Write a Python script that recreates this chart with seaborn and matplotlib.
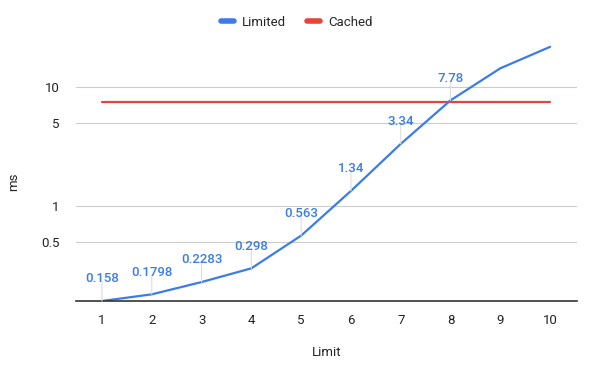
import numpy as np
import pandas as pd
import matplotlib
matplotlib.use("Agg")
import matplotlib.pyplot as plt
from matplotlib.lines import Line2D
import seaborn as sns

limits = [1, 2, 3, 4, 5, 6, 7, 8, 9, 10]
limited = [0.158, 0.1798, 0.2283, 0.298, 0.563, 1.34, 3.34, 7.78, 14.5, 22.0]
cached = [7.5, 7.5, 7.5, 7.5, 7.5, 7.5, 7.5, 7.5, 7.5, 7.5]
label_count = 8  # only the first eight points carry value labels
yticks = [0.5, 1, 5, 10]
ytick_labels = ["0.5", "1", "5", "10"]

blue = "#3a7ce8"
red = "#e94335"

df = pd.DataFrame({"Limit": limits * 2,
                   "ms": limited + cached,
                   "series": ["Limited"] * len(limits) + ["Cached"] * len(limits)})

sns.set_style("white")
plt.rcParams["font.family"] = ["Roboto", "DejaVu Sans"]

fig = plt.figure(figsize=(5.93, 3.66), dpi=100)
ax = fig.add_axes([76 / 593, 1 - 301 / 366, (577 - 76) / 593, (301 - 30) / 366])

sns.lineplot(data=df, x="Limit", y="ms", hue="series",
             palette={"Limited": blue, "Cached": red},
             hue_order=["Cached", "Limited"], linewidth=1.6, ax=ax, legend=False)

ax.set_yscale("log")
ax.set_ylim(0.158, 30.5)
ax.set_xlim(0.478, 10.54)
ax.set_yticks(yticks)
ax.set_yticklabels(ytick_labels)
ax.yaxis.set_minor_locator(matplotlib.ticker.NullLocator())
ax.set_xticks(limits)
ax.tick_params(axis="both", length=0, labelsize=9.5, colors="#222222", pad=9)
ax.tick_params(axis="y", pad=12)
ax.grid(axis="y", color="#cccccc", linewidth=0.8)
for s in ["top", "right", "left"]:
    ax.spines[s].set_visible(False)
ax.spines["bottom"].set_color("#333333")
ax.spines["bottom"].set_linewidth(1.2)

ax.set_xlabel("Limit", fontsize=9.5, color="#222222", labelpad=14)
ax.set_ylabel("ms", fontsize=9.5, color="#222222")
ax.yaxis.set_label_coords((20 - 76) / 501, 0.44)

for x, y in zip(limits[:label_count], limited[:label_count]):
    ax.annotate("", xy=(x, y), xytext=(0, 14), textcoords="offset points",
                arrowprops=dict(arrowstyle="-", color="#dddddd", lw=0.8,
                                shrinkA=0, shrinkB=0))
    ax.annotate(f"{y:g}", xy=(x, y), xytext=(0, 16), textcoords="offset points",
                ha="center", va="center", fontsize=9.5, color=blue, fontweight="medium")

handles = [Line2D([], [], color=blue, linewidth=4), Line2D([], [], color=red, linewidth=4)]
fig.legend(handles, ["Limited", "Cached"], loc="center", bbox_to_anchor=(0.5, 1 - 22 / 366),
           ncol=2, frameon=False, fontsize=9.5, handlelength=1.0, columnspacing=1.6,
           handletextpad=0.6)

fig.savefig("out.png", dpi=100)
